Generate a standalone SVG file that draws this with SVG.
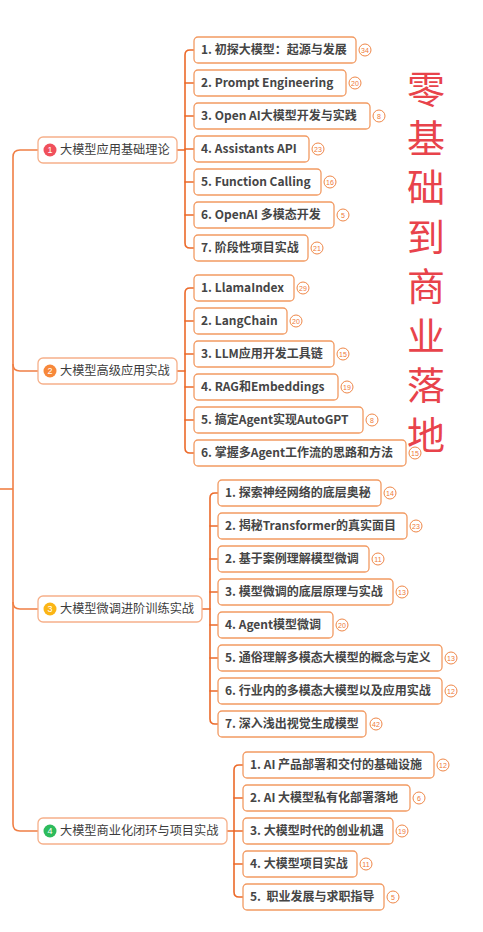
<svg xmlns="http://www.w3.org/2000/svg" width="483" height="932" viewBox="0 0 483 932">
<defs>
<style>
.bg{fill:#ffffff}
.ln{fill:none;stroke:#ec6a2a;stroke-width:1.6;stroke-linecap:round}
.tr{fill:none;stroke:#f07f45;stroke-width:1.6}
.l1{fill:#ffffff;stroke:#f6b08a;stroke-width:1.3}
.bx{fill:#ffffff;stroke:#f29a62;stroke-width:1.3}
.t1{font-family:"Noto Sans CJK SC","Liberation Sans",sans-serif;font-size:12.2px;fill:#3c3c3c}
.t2{font-family:"Noto Sans CJK SC","Liberation Sans",sans-serif;font-size:12px;font-weight:bold;fill:#454545;white-space:pre}
.bc{fill:#ffffff;stroke:#ef8748;stroke-width:1}
.bn{font-family:"Liberation Sans",sans-serif;font-size:7px;fill:#ef7a38;text-anchor:middle}
.mn{font-family:"Liberation Sans",sans-serif;font-size:9px;fill:#ffffff;text-anchor:middle}
.big{font-family:"Noto Sans CJK SC",sans-serif;font-size:38px;fill:#e8434b;text-anchor:middle}
</style>
</defs>
<rect class="bg" x="0" y="0" width="483" height="932"/>
<g id="connectors">
<path class="tr" d="M0,489 H13"/>
<path class="tr" d="M38,150 H20 Q13,150 13,157 V824 Q13,831 20,831 H38"/>
<path class="tr" d="M13,364 Q13,371 20,371 H38"/>
<path class="tr" d="M13,602 Q13,609 20,609 H38"/>
<path class="ln" d="M177,150 H185"/>
<path class="ln" d="M194,50 H190 Q185,50 185,55 V243 Q185,248 190,248 H194"/>
<path class="ln" d="M185,83 H194 M185,116 H194 M185,149 H194 M185,182 H194 M185,215 H194"/>
<path class="ln" d="M177,371 H185"/>
<path class="ln" d="M194,288 H190 Q185,288 185,293 V448 Q185,453 190,453 H194"/>
<path class="ln" d="M185,321 H194 M185,354 H194 M185,387 H194 M185,420 H194"/>
<path class="ln" d="M202,609 H210"/>
<path class="ln" d="M218,493 H215 Q210,493 210,498 V719 Q210,724 215,724 H218"/>
<path class="ln" d="M210,526 H218 M210,559 H218 M210,592 H218 M210,625 H218 M210,658 H218 M210,691 H218"/>
<path class="ln" d="M227,831 H234"/>
<path class="ln" d="M243,765 H239 Q234,765 234,770 V892 Q234,897 239,897 H243"/>
<path class="ln" d="M234,798 H243 M234,831 H243 M234,864 H243"/>
</g>
<g id="title">
<text class="big" x="426" y="103">零</text>
<text class="big" x="426" y="152">基</text>
<text class="big" x="426" y="201">础</text>
<text class="big" x="426" y="251">到</text>
<text class="big" x="426" y="300">商</text>
<text class="big" x="426" y="350">业</text>
<text class="big" x="426" y="399">落</text>
<text class="big" x="426" y="449">地</text>
</g>
<g id="n1">
<rect class="l1" x="38" y="137" width="139" height="26" rx="5"/>
<circle cx="50" cy="150" r="6.5" fill="#f0505c"/><text class="mn" x="50" y="153.2">1</text>
<text class="t1" x="60" y="154.3">大模型应用基础理论</text>
</g>
<g id="n2">
<rect class="l1" x="38" y="358" width="139" height="26" rx="5"/>
<circle cx="50" cy="371" r="6.5" fill="#f7883a"/><text class="mn" x="50" y="374.2">2</text>
<text class="t1" x="60" y="375.3">大模型高级应用实战</text>
</g>
<g id="n3">
<rect class="l1" x="38" y="596" width="164" height="26" rx="5"/>
<circle cx="50" cy="609" r="6.5" fill="#fbb515"/><text class="mn" x="50" y="612.2">3</text>
<text class="t1" x="60" y="613.3">大模型微调进阶训练实战</text>
</g>
<g id="n4">
<rect class="l1" x="38" y="818" width="189" height="26" rx="5"/>
<circle cx="50" cy="831" r="6.5" fill="#2dbb5c"/><text class="mn" x="50" y="834.2">4</text>
<text class="t1" x="60" y="835.3">大模型商业化闭环与项目实战</text>
</g>
<g id="g1-1"><rect class="bx" x="194" y="37" width="162" height="26" rx="4"/><text class="t2" x="201" y="54.2">1. 初探大模型：起源与发展</text><circle class="bc" cx="365" cy="50" r="6"/><text class="bn" x="365" y="52.5">34</text></g>
<g id="g1-2"><rect class="bx" x="194" y="70" width="152" height="26" rx="4"/><text class="t2" x="201" y="87.2">2. Prompt Engineering</text><circle class="bc" cx="355" cy="83" r="6"/><text class="bn" x="355" y="85.5">20</text></g>
<g id="g1-3"><rect class="bx" x="194" y="103" width="176" height="26" rx="4"/><text class="t2" x="201" y="120.2">3. Open AI大模型开发与实践</text><circle class="bc" cx="379" cy="116" r="6"/><text class="bn" x="379" y="118.5">8</text></g>
<g id="g1-4"><rect class="bx" x="194" y="136" width="115" height="26" rx="4"/><text class="t2" x="201" y="153.2">4. Assistants API</text><circle class="bc" cx="318" cy="149" r="6"/><text class="bn" x="318" y="151.5">23</text></g>
<g id="g1-5"><rect class="bx" x="194" y="169" width="127" height="26" rx="4"/><text class="t2" x="201" y="186.2">5. Function Calling</text><circle class="bc" cx="330" cy="182" r="6"/><text class="bn" x="330" y="184.5">16</text></g>
<g id="g1-6"><rect class="bx" x="194" y="202" width="140" height="26" rx="4"/><text class="t2" x="201" y="219.2">6. OpenAI 多模态开发</text><circle class="bc" cx="343" cy="215" r="6"/><text class="bn" x="343" y="217.5">5</text></g>
<g id="g1-7"><rect class="bx" x="194" y="235" width="114" height="26" rx="4"/><text class="t2" x="201" y="252.2">7. 阶段性项目实战</text><circle class="bc" cx="317" cy="248" r="6"/><text class="bn" x="317" y="250.5">21</text></g>
<g id="g2-1"><rect class="bx" x="194" y="275" width="100" height="26" rx="4"/><text class="t2" x="201" y="292.2">1. LlamaIndex</text><circle class="bc" cx="303" cy="288" r="6"/><text class="bn" x="303" y="290.5">29</text></g>
<g id="g2-2"><rect class="bx" x="194" y="308" width="93" height="26" rx="4"/><text class="t2" x="201" y="325.2">2. LangChain</text><circle class="bc" cx="296" cy="321" r="6"/><text class="bn" x="296" y="323.5">20</text></g>
<g id="g2-3"><rect class="bx" x="194" y="341" width="140" height="26" rx="4"/><text class="t2" x="201" y="358.2">3. LLM应用开发工具链</text><circle class="bc" cx="343" cy="354" r="6"/><text class="bn" x="343" y="356.5">15</text></g>
<g id="g2-4"><rect class="bx" x="194" y="374" width="144" height="26" rx="4"/><text class="t2" x="201" y="391.2">4. RAG和Embeddings</text><circle class="bc" cx="347" cy="387" r="6"/><text class="bn" x="347" y="389.5">19</text></g>
<g id="g2-5"><rect class="bx" x="194" y="407" width="169" height="26" rx="4"/><text class="t2" x="201" y="424.2">5. 搞定Agent实现AutoGPT</text><circle class="bc" cx="372" cy="420" r="6"/><text class="bn" x="372" y="422.5">8</text></g>
<g id="g2-6"><rect class="bx" x="194" y="440" width="212" height="26" rx="4"/><text class="t2" x="201" y="457.2">6. 掌握多Agent工作流的思路和方法</text><circle class="bc" cx="415" cy="453" r="6"/><text class="bn" x="415" y="455.5">15</text></g>
<g id="g3-1"><rect class="bx" x="218" y="480" width="163" height="26" rx="4"/><text class="t2" x="225" y="497.2">1. 探索神经网络的底层奥秘</text><circle class="bc" cx="390" cy="493" r="6"/><text class="bn" x="390" y="495.5">14</text></g>
<g id="g3-2"><rect class="bx" x="218" y="513" width="189" height="26" rx="4"/><text class="t2" x="225" y="530.2">2. 揭秘Transformer的真实面目</text><circle class="bc" cx="416" cy="526" r="6"/><text class="bn" x="416" y="528.5">23</text></g>
<g id="g3-3"><rect class="bx" x="218" y="546" width="151" height="26" rx="4"/><text class="t2" x="225" y="563.2">2. 基于案例理解模型微调</text><circle class="bc" cx="378" cy="559" r="6"/><text class="bn" x="378" y="561.5">11</text></g>
<g id="g3-4"><rect class="bx" x="218" y="579" width="175" height="26" rx="4"/><text class="t2" x="225" y="596.2">3. 模型微调的底层原理与实战</text><circle class="bc" cx="402" cy="592" r="6"/><text class="bn" x="402" y="594.5">13</text></g>
<g id="g3-5"><rect class="bx" x="218" y="612" width="115" height="26" rx="4"/><text class="t2" x="225" y="629.2">4. Agent模型微调</text><circle class="bc" cx="342" cy="625" r="6"/><text class="bn" x="342" y="627.5">20</text></g>
<g id="g3-6"><rect class="bx" x="218" y="645" width="224" height="26" rx="4"/><text class="t2" x="225" y="662.2">5. 通俗理解多模态大模型的概念与定义</text><circle class="bc" cx="451" cy="658" r="6"/><text class="bn" x="451" y="660.5">13</text></g>
<g id="g3-7"><rect class="bx" x="218" y="678" width="224" height="26" rx="4"/><text class="t2" x="225" y="695.2">6. 行业内的多模态大模型以及应用实战</text><circle class="bc" cx="451" cy="691" r="6"/><text class="bn" x="451" y="693.5">12</text></g>
<g id="g3-8"><rect class="bx" x="218" y="711" width="148" height="26" rx="4"/><text class="t2" x="225" y="728.2">7. 深入浅出视觉生成模型</text><circle class="bc" cx="376" cy="724" r="6"/><text class="bn" x="376" y="726.5">42</text></g>
<g id="g4-1"><rect class="bx" x="243" y="752" width="191" height="26" rx="4"/><text class="t2" x="250" y="769.2">1. AI 产品部署和交付的基础设施</text><circle class="bc" cx="443" cy="765" r="6"/><text class="bn" x="443" y="767.5">12</text></g>
<g id="g4-2"><rect class="bx" x="243" y="785" width="167" height="26" rx="4"/><text class="t2" x="250" y="802.2">2. AI 大模型私有化部署落地</text><circle class="bc" cx="419" cy="798" r="6"/><text class="bn" x="419" y="800.5">6</text></g>
<g id="g4-3"><rect class="bx" x="243" y="818" width="150" height="26" rx="4"/><text class="t2" x="250" y="835.2">3. 大模型时代的创业机遇</text><circle class="bc" cx="402" cy="831" r="6"/><text class="bn" x="402" y="833.5">19</text></g>
<g id="g4-4"><rect class="bx" x="243" y="851" width="114" height="26" rx="4"/><text class="t2" x="250" y="868.2">4. 大模型项目实战</text><circle class="bc" cx="366" cy="864" r="6"/><text class="bn" x="366" y="866.5">11</text></g>
<g id="g4-5"><rect class="bx" x="243" y="884" width="141" height="26" rx="4"/><text class="t2" x="250" y="901.2">5.  职业发展与求职指导</text><circle class="bc" cx="393" cy="897" r="6"/><text class="bn" x="393" y="899.5">5</text></g>
</svg>
